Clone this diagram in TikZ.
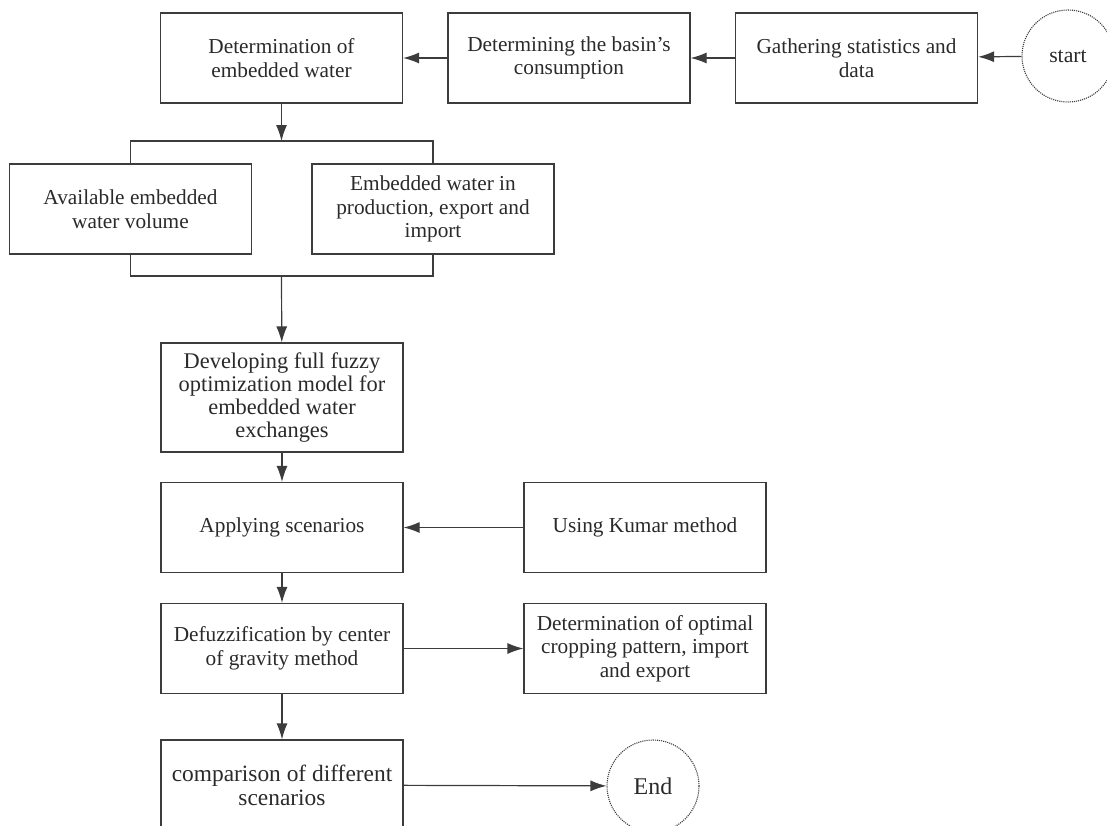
\documentclass[tikz,border=0pt]{standalone}
\usepackage{fontspec}
\setmainfont{Liberation Serif}
\usetikzlibrary{arrows.meta}

\definecolor{linegray}{HTML}{3C3C3C}
\definecolor{textgray}{HTML}{2A2A2A}

\tikzset{
  box/.style={draw=linegray,line width=1.2pt,minimum width=242pt,minimum height=90pt,
    align=center,inner sep=4pt,text=textgray,font=\fontsize{21.3}{23.5}\selectfont},
  terminal/.style={draw=linegray,densely dotted,line width=1.1pt,circle,minimum size=92pt,
    inner sep=0pt,text=textgray,font=\fontsize{21.8}{24}\selectfont},
  line/.style={draw=linegray,line width=1.2pt},
  >={Latex[length=16pt,width=11pt]}
}

\begin{document}
\begin{tikzpicture}[x=1pt,y=-1pt]
\useasboundingbox (0,0) rectangle (1107,825);
\clip (0,0) rectangle (1107,825);

\node[terminal] (start) at (1068,56) {start};
\node[box] (gather) at (856.5,58) {Gathering statistics and\\data};
\node[box] (basin) at (569,58) {Determining the basin’s\\consumption};
\node[box] (embed) at (281.5,58) {Determination of\\embedded water};

\node[box] (avail) at (130.5,209) {Available embedded\\water volume};
\node[box] (trade) at (433,209) {Embedded water in\\production, export and\\import};
\coordinate (split) at (281.5,141);
\coordinate (merge) at (281.5,276);

\node[box,minimum height=109pt,font=\fontsize{22.4}{23.3}\selectfont] (model) at (282,397.5) {Developing full fuzzy\\optimization model for\\embedded water\\exchanges};
\node[box] (scen) at (282,527.5) {Applying scenarios};
\node[box] (kumar) at (645,527.5) {Using Kumar method};
\node[box] (defuzz) at (282,648.5) {Defuzzification by center\\of gravity method};
\node[box] (optimal) at (645,648.5) {Determination of optimal\\cropping pattern, import\\and export};
\node[box,font=\fontsize{23.4}{24}\selectfont] (compare) at (282,785) {comparison of different\\scenarios};
\node[terminal,font=\fontsize{24}{26}\selectfont] (end) at (653,786) {End};

\draw[line,->] (start) -- (gather);
\draw[line,->] (gather) -- (basin);
\draw[line,->] (basin) -- (embed);
\draw[line,->] (embed) -- (split);
\draw[line] (avail.north) |- (split) -| (trade.north);
\draw[line] (avail.south) |- (merge) -| (trade.south);
\draw[line,->] (merge) -- (model);
\draw[line,->] (model) -- (scen);
\draw[line,->] (kumar) -- (scen);
\draw[line,->] (scen) -- (defuzz);
\draw[line,->] (defuzz) -- (optimal);
\draw[line,->] (defuzz) -- (compare);
\draw[line,->] (compare) -- (end);
\end{tikzpicture}
\end{document}
